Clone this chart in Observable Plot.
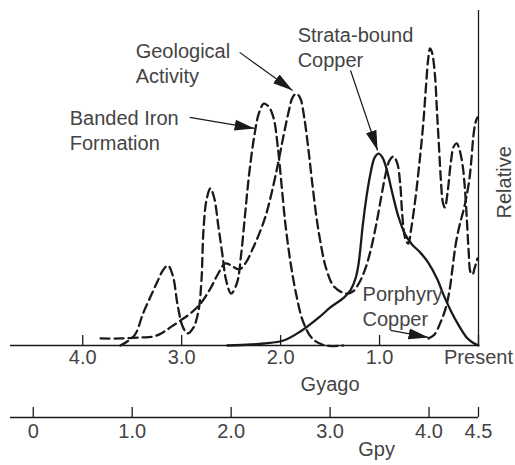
<!DOCTYPE html>
<html>
<head>
<meta charset="utf-8">
<script src="https://cdn.jsdelivr.net/npm/d3@7"></script>
<script src="https://cdn.jsdelivr.net/npm/@observablehq/plot@0.6"></script>
<style>
  html, body { margin: 0; padding: 0; background: #fff; }
  svg { display: block; }
</style>
</head>
<body>
<div id="chart"></div>
<script>
// ---------- data (Gyago = billions of years ago, Rel = relative amount 0-100) ----------
const bifGyago = [3.62,3.55,3.47,3.39,3.31,3.24,3.19,3.14,3.09,3.04,2.99,2.94,2.88,2.83,2.80,2.78,2.75,2.71,2.67,2.63,2.59,2.55,2.50,2.44,2.40,2.36,2.32,2.27,2.22,2.17,2.12,2.07,2.03,1.99,1.95,1.90,1.84,1.77,1.68,1.55,1.37];
const bifRel   = [0,1.2,3.3,9.6,14.9,19.4,22.4,23.9,20.9,11.9,5.7,3.6,5.4,10.4,19.4,34.3,43.3,46.9,43.9,35.8,27.5,19.4,15.5,18.8,26.9,38.8,50.7,61.8,69.3,72.2,71.3,67.8,59.7,47.8,35.8,24.8,14.9,6.9,2.1,0,0];

const geoGyago = [3.82,3.62,3.41,3.28,3.19,3.10,3.01,2.91,2.81,2.71,2.63,2.56,2.50,2.42,2.35,2.28,2.22,2.15,2.08,2.02,1.97,1.92,1.88,1.84,1.80,1.76,1.72,1.68,1.64,1.60,1.54,1.46,1.34,1.27,1.21,1.15,1.09,1.03,0.98,0.94,0.90,0.86,0.82,0.79,0.77,0.74,0.71,0.68,0.64,0.60,0.56,0.53,0.51,0.49,0.47,0.44,0.42,0.40,0.38,0.36,0.34,0.31,0.28,0.25,0.22,0.19,0.16,0.14,0.12,0.10,0.08,0.06,0.04,0.01];
const geoRel   = [2.1,2.1,2.4,2.7,3.9,5.7,7.5,9.6,12.5,17.0,21.5,24.5,23.9,22.7,24.8,29.0,33.1,38.8,46.9,55.2,62.7,69.6,74.0,75.2,73.7,67.8,58.8,48.4,38.8,31.3,23.0,17.6,15.5,16.1,18.5,22.4,28.4,36.7,44.8,51.0,55.2,56.4,54.3,47.8,38.8,31.9,30.4,34.9,43.3,53.7,65.7,77.6,85.1,88.7,87.5,80.6,70.1,59.7,49.3,42.7,41.2,46.3,54.6,59.4,60.3,58.2,53.7,47.8,38.8,28.4,21.8,21.2,23.0,26.0];

const strataGyago = [2.54,2.30,2.17,1.97,1.80,1.60,1.50,1.36,1.29,1.24,1.21,1.17,1.13,1.09,1.05,1.01,0.97,0.93,0.87,0.81,0.74,0.67,0.59,0.51,0.42,0.35,0.28,0.20,0.12,0.06,0];
const strataRel   = [0,0.3,0.6,1.5,4.2,8.7,11.3,14.3,16.7,20.3,24.8,35.8,44.8,51.6,56.1,57.3,56.1,52.8,45.4,38.5,33.1,30.1,27.8,24.8,20.0,14.9,10.4,6.0,2.4,0.9,0];

const porphGyago = [0.505,0.444,0.384,0.333,0.293,0.263,0.232,0.192,0.152,0.121,0.091,0.071,0.051,0.030,0.010];
const porphRel   = [2.1,3.3,6.9,11.0,16.4,23.0,29.9,35.8,40.3,44.5,49.9,55.8,62.7,66.6,68.1];

// axis ticks
const topTickValues = [4, 3, 2, 1, 0];
const topTickLabels = ["4.0", "3.0", "2.0", "1.0", "Present"];
const gpyTickValues = [0, 1, 2, 3, 4, 4.5];
const gpyTickLabels = ["0", "1.0", "2.0", "3.0", "4.0", "4.5"];
const earthAge = 4.5;  // Gpy = 4.5 - Gyago

// annotations (in data coordinates)
const labelTexts = ["Geological\nActivity", "Banded Iron\nFormation", "Strata-bound\nCopper", "Porphyry\nCopper"];
const labelGyago = [3.465, 4.131, 1.828, 1.172];
const labelRel   = [91.1, 71.1, 95.9, 18.6];
const arrowFromGyago = [2.414, 2.919, 1.293, 0.889];
const arrowFromRel   = [87.5, 68.1, 82.1, 4.5];
const arrowToGyago   = [1.879, 2.263, 1.020, 0.505];
const arrowToRel     = [76.1, 64.8, 58.2, 2.4];

// ---------- build tables ----------
const toRows = (ts, vs) => ts.map((t, i) => ({t, v: vs[i]}));
const bif = toRows(bifGyago, bifRel);
const geo = toRows(geoGyago, geoRel);
const strata = toRows(strataGyago, strataRel);
const porph = toRows(porphGyago, porphRel);
const labels = labelTexts.map((s, i) => ({s, t: labelGyago[i], v: labelRel[i]}));
const arrows = arrowFromGyago.map((d, i) => ({t1: d, v1: arrowFromRel[i], t2: arrowToGyago[i], v2: arrowToRel[i]}));
const topTicks = topTickValues.map((t, i) => ({t, label: topTickLabels[i]}));
const gpyTicks = gpyTickValues.map((g, i) => ({t: earthAge - g, label: gpyTickLabels[i]}));

const ink = "#1a1a1a";
const textInk = "#444";
const font = "Liberation Sans, Arial, Helvetica, sans-serif";
const dashed = {x: "t", y: "v", curve: "catmull-rom", stroke: ink, strokeWidth: 2.3, strokeDasharray: "9,5"};

const svg = Plot.plot({
  width: 515,
  height: 465,
  marginLeft: 10,
  marginRight: 37,
  marginTop: 10,
  marginBottom: 120,
  x: {domain: [4.73, 0], axis: null},
  y: {domain: [0, 100], axis: null},
  style: {fontFamily: font, background: "#fff", color: ink},
  marks: [
    // top (Gyago) axis
    Plot.ruleY([0], {stroke: ink, strokeWidth: 1.3}),
    Plot.ruleX([0], {stroke: ink, strokeWidth: 1.3}),
    Plot.ruleX(topTicks, {x: "t", y1: 0, y2: 0, insetTop: -10, stroke: ink, strokeWidth: 1.3}),
    Plot.text(topTicks, {x: "t", text: "label", frameAnchor: "bottom", dy: 18, fontSize: 20, fill: textInk}),
    Plot.text(["Gyago"], {x: 1.5, text: d => d, frameAnchor: "bottom", dy: 45, fontSize: 20, fill: textInk}),
    // bottom (Gpy) axis
    Plot.ruleY([0], {dy: 72, stroke: ink, strokeWidth: 1.3}),
    Plot.ruleX(gpyTicks, {x: "t", y1: 0, y2: 0, insetTop: -10, dy: 72, stroke: ink, strokeWidth: 1.3}),
    Plot.text(gpyTicks, {x: "t", text: "label", frameAnchor: "bottom", dy: 92, fontSize: 20, fill: textInk}),
    Plot.text(["Gpy"], {x: earthAge - 3.47, text: d => d, frameAnchor: "bottom", dy: 110, fontSize: 20, fill: textInk}),
    // y label
    Plot.text(["Relative"], {y: 48.7, text: d => d, frameAnchor: "right", textAnchor: "middle", lineAnchor: "middle", dx: 26, rotate: -90, fontSize: 20, fill: textInk}),
    // curves
    Plot.line(bif, dashed),
    Plot.line(geo, dashed),
    Plot.line(porph, dashed),
    Plot.line(strata, {x: "t", y: "v", curve: "catmull-rom", stroke: ink, strokeWidth: 2.3}),
    // annotations
    Plot.text(labels, {x: "t", y: "v", text: "s", textAnchor: "start", lineAnchor: "top", lineHeight: 1.25, fontSize: 20, fill: textInk}),
    Plot.link(arrows, {x1: "t1", y1: "v1", x2: "t2", y2: "v2", stroke: ink, strokeWidth: 1.2})
  ]
});

// filled arrowheads on the annotation links
const ns = "http://www.w3.org/2000/svg";
const defs = document.createElementNS(ns, "defs");
const marker = document.createElementNS(ns, "marker");
marker.setAttribute("id", "ahead");
marker.setAttribute("viewBox", "0 -6 20 12");
marker.setAttribute("markerWidth", "20");
marker.setAttribute("markerHeight", "12");
marker.setAttribute("refX", "20");
marker.setAttribute("refY", "0");
marker.setAttribute("orient", "auto");
marker.setAttribute("markerUnits", "userSpaceOnUse");
const head = document.createElementNS(ns, "path");
head.setAttribute("d", "M0,-5.5L20,0L0,5.5Z");
head.setAttribute("fill", ink);
marker.appendChild(head);
defs.appendChild(marker);
svg.insertBefore(defs, svg.firstChild);
svg.querySelectorAll('g[aria-label="link"] path').forEach(p => p.setAttribute("marker-end", "url(#ahead)"));

document.getElementById("chart").appendChild(svg);
</script>
</body>
</html>
